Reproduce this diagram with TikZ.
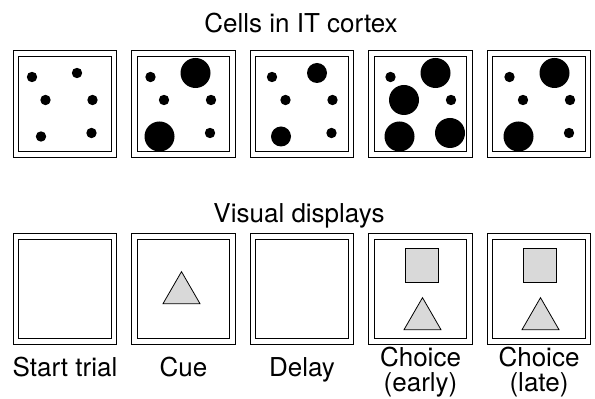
\documentclass[tikz,border=0pt]{standalone}
\usepackage{fontspec}
\setmainfont{TeX Gyre Heros}
\usetikzlibrary{positioning,shapes.geometric}

\begin{document}
\begin{tikzpicture}[x=1pt, y=1pt, node distance=20.5pt, every node/.style={font=\fontsize{26}{25.5}\selectfont}, frame/.style={draw, double, double distance=4.3pt, line width=1.1pt, inner sep=0pt, outer sep=0pt, minimum width=98pt}, cell/.style={frame, minimum height=101pt}, screen/.style={frame, minimum height=105pt}, stim/.style={draw, line width=0.8pt, fill=gray!30, inner sep=0pt}, tri/.style={stim, regular polygon, regular polygon sides=3, minimum size=42.7pt}, sq/.style={stim, minimum width=33pt, minimum height=34pt}, lbl/.style={anchor=base, align=center}]
\useasboundingbox (0,0) rectangle (595,399);
% cells in IT cortex
\node[anchor=base] (ittitle) at (301,366) {Cells in IT cortex};
\node[cell] (it1) at (65,295) {};
\node[cell, right=of it1] (it2) {};
\node[cell, right=of it2] (it3) {};
\node[cell, right=of it3] (it4) {};
\node[cell, right=of it4] (it5) {};
\foreach \b/\dx/\rb/\rc/\re/\rf in {1/0/5.2/5.2/5.2/5.2, 2/0/15/5.2/15/5.2, 3/3/10/5.2/10/5.2, 4/3/15/15/15/15, 5/3.5/15/5.2/15/5.2}
  \fill[shift={(it\b.center)}, xshift=\dx] (-33,27) circle (5.2) (12,31) circle (\rb) (-19.5,4) circle (\rc) (27.5,4) circle (5.2) (-24,-32.5) circle (\re) (26.5,-29) circle (\rf);
% visual displays
\node[anchor=base] (vdtitle) at (299,176) {Visual displays};
\node[screen] (vd1) at (65,110) {};
\node[screen, right=of vd1] (vd2) {};
\node[screen, right=of vd2] (vd3) {};
\node[screen, right=of vd3] (vd4) {};
\node[screen, right=of vd4] (vd5) {};
\node[tri] (cuetri) at ([shift={(-2,-4)}]vd2.center) {};
\node[sq] (earlysq) at ([shift={(1.5,24)}]vd4.center) {};
\node[tri] (earlytri) at ([shift={(2,-30)}]vd4.center) {};
\node[sq] (latesq) at ([shift={(1,24)}]vd5.center) {};
\node[tri] (latetri) at ([shift={(1.5,-30)}]vd5.center) {};
\node[lbl] (start) at ([yshift=-35.5]vd1.south) {Start trial};
\node[lbl] (cue) at ([yshift=-35.5]vd2.south) {Cue};
\node[lbl] (delay) at ([yshift=-35.5]vd3.south) {Delay};
\node[lbl] (early) at ([yshift=-50.5]vd4.south) {Choice\\(early)};
\node[lbl] (late) at ([yshift=-50.5]vd5.south) {Choice\\(late)};
\end{tikzpicture}
\end{document}
